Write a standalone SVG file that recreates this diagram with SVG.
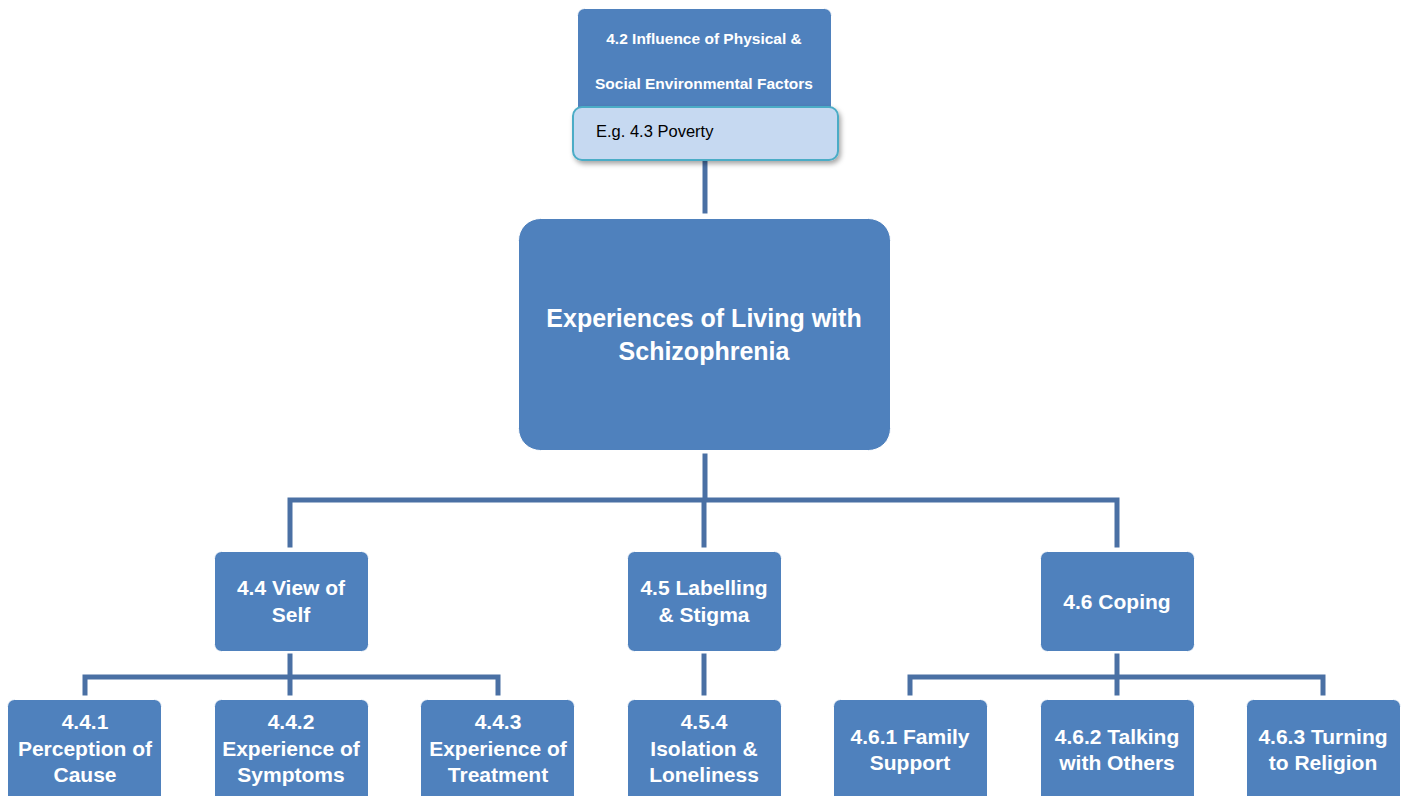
<svg xmlns="http://www.w3.org/2000/svg" width="1406" height="796" viewBox="0 0 1406 796">
<defs>
<filter id="sh" x="-10%" y="-20%" width="120%" height="160%">
<feDropShadow dx="2" dy="3" stdDeviation="2.5" flood-color="#000" flood-opacity="0.35"/>
</filter>
</defs>
<style>
.box{fill:#4F81BD;stroke:#ffffff;stroke-width:1}
.lt{fill:#C6D9F1;stroke:#4BACC6;stroke-width:2}
.conn{fill:none;stroke:#4A70A4;stroke-width:5;stroke-linecap:square}
text{font-family:"Liberation Sans",Arial,sans-serif;text-anchor:middle}
.w{fill:#ffffff;font-weight:bold}
.t2{font-size:21px}
.t1{font-size:25px}
.t0{font-size:15.5px}
.k{fill:#000000;font-size:16.5px;text-anchor:start}
</style>
<rect width="1406" height="796" fill="#ffffff"/>
<g id="connectors">
<path class="conn" d="M705,163 V211"/>
<path class="conn" d="M705,456 V500 M290,545 V500 H1117 V545 M704,500 V545"/>
<path class="conn" d="M290,656 V677 M85,693 V677 H498 V693 M290,677 V693"/>
<path class="conn" d="M704,656 V693"/>
<path class="conn" d="M1117,656 V677 M910,693 V677 H1323 V693 M1117,677 V693"/>
</g>
<g id="n42">
<rect class="box" x="577.500" y="8.500" width="254" height="110" rx="7"/>
<text class="w t0" x="704" y="44">4.2 Influence of Physical &amp;</text>
<text class="w t0" x="704" y="89">Social Environmental Factors</text>
</g>
<g id="n43">
<rect class="lt" x="573" y="107" width="265" height="53" rx="9" filter="url(#sh)"/>
<text class="k" x="596" y="137">E.g. 4.3 Poverty</text>
</g>
<g id="center">
<rect class="box" x="518.500" y="218.500" width="372" height="232" rx="22"/>
<text class="w t1" x="704" y="327">Experiences of Living with</text>
<text class="w t1" x="704" y="360">Schizophrenia</text>
</g>
<g id="n44">
<rect class="box" x="214.500" y="551.500" width="154" height="100" rx="7"/>
<text class="w t2" x="291" y="595">4.4 View of</text>
<text class="w t2" x="291" y="622">Self</text>
</g>
<g id="n45">
<rect class="box" x="627.500" y="551.500" width="154" height="100" rx="7"/>
<text class="w t2" x="704" y="595">4.5 Labelling</text>
<text class="w t2" x="704" y="622">&amp; Stigma</text>
</g>
<g id="n46">
<rect class="box" x="1040.500" y="551.500" width="154" height="100" rx="7"/>
<text class="w t2" x="1117" y="609">4.6 Coping</text>
</g>
<g id="n441">
<rect class="box" x="7.500" y="699.500" width="154" height="110" rx="7"/>
<text class="w t2" x="85" y="729">4.4.1</text>
<text class="w t2" x="85" y="756">Perception of</text>
<text class="w t2" x="85" y="782">Cause</text>
</g>
<g id="n442">
<rect class="box" x="214.500" y="699.500" width="154" height="110" rx="7"/>
<text class="w t2" x="291" y="729">4.4.2</text>
<text class="w t2" x="291" y="756">Experience of</text>
<text class="w t2" x="291" y="782">Symptoms</text>
</g>
<g id="n443">
<rect class="box" x="420.500" y="699.500" width="154" height="110" rx="7"/>
<text class="w t2" x="498" y="729">4.4.3</text>
<text class="w t2" x="498" y="756">Experience of</text>
<text class="w t2" x="498" y="782">Treatment</text>
</g>
<g id="n454">
<rect class="box" x="627.500" y="699.500" width="154" height="110" rx="7"/>
<text class="w t2" x="704" y="729">4.5.4</text>
<text class="w t2" x="704" y="756">Isolation &amp;</text>
<text class="w t2" x="704" y="782">Loneliness</text>
</g>
<g id="n461">
<rect class="box" x="833.500" y="699.500" width="154" height="110" rx="7"/>
<text class="w t2" x="910" y="744">4.6.1 Family</text>
<text class="w t2" x="910" y="770">Support</text>
</g>
<g id="n462">
<rect class="box" x="1040.500" y="699.500" width="154" height="110" rx="7"/>
<text class="w t2" x="1117" y="744">4.6.2 Talking</text>
<text class="w t2" x="1117" y="770">with Others</text>
</g>
<g id="n463">
<rect class="box" x="1246.500" y="699.500" width="154" height="110" rx="7"/>
<text class="w t2" x="1323" y="744">4.6.3 Turning</text>
<text class="w t2" x="1323" y="770">to Religion</text>
</g>
</svg>
